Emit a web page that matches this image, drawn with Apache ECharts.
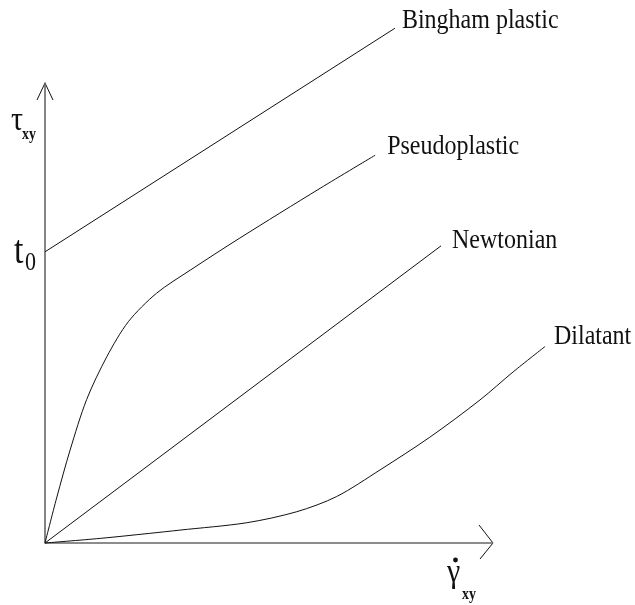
<!DOCTYPE html>
<html>
<head>
<meta charset="utf-8">
<script src="https://cdn.jsdelivr.net/npm/echarts@6/dist/echarts.min.js"></script>
<style>
  html, body { margin: 0; padding: 0; background: #fff; }
  #chart { width: 635px; height: 605px; }
</style>
</head>
<body>
<div id="chart"></div>
<script>
// shear rate (x) vs shear stress (y), arbitrary units
const binghamData = [[0, 63.3], [78.1, 111.9]];
const pseudoData = [
  [0, 0], [2.6, 9.8], [5.6, 20.2], [9.3, 31.2], [13.8, 40.5], [18.6, 48.1],
  [24.9, 54.3], [32.4, 59.3], [43.5, 66.3], [61.4, 77.1], [73.7, 84.3]
];
const newtonianData = [[0, 0], [88.4, 64.6]];
const dilatantData = [
  [0, 0], [12.3, 1.0], [23.4, 2.1], [30.1, 2.8], [45.0, 4.4], [56.2, 6.8],
  [65.1, 10.1], [74.8, 15.9], [85.9, 23.0], [97.1, 31.1], [104.5, 37.2], [111.6, 42.7]
];
const curveNames = ['Bingham plastic', 'Pseudoplastic', 'Newtonian', 'Dilatant'];
const axisEnd = 100;   // where the drawn axis arrows sit
const xRoom = 125;     // the dilatant curve runs past the x arrow

const serif = '"Liberation Serif", "DejaVu Serif", serif';
const chart = echarts.init(document.getElementById('chart'));

function curve (name, data, smooth) {
  return {
    name: name,
    type: 'line',
    data: data,
    showSymbol: false,
    smooth: smooth,
    clip: false,
    silent: true,
    lineStyle: { color: '#111', width: 1 }
  }
}

chart.setOption({
  animation: false,
  backgroundColor: '#fff',
  grid: { left: 45, top: 83, width: 560, height: 460 },
  xAxis: {
    type: 'value', min: 0, max: xRoom,
    axisLine: { show: false },
    axisTick: { show: false }, axisLabel: { show: false }, splitLine: { show: false }
  },
  yAxis: {
    type: 'value', min: 0, max: axisEnd,
    axisLine: { show: true, lineStyle: { color: '#666', width: 1.6 } },
    axisTick: { show: false }, axisLabel: { show: false }, splitLine: { show: false }
  },
  series: [
    curve(curveNames[0], binghamData, false),
    curve(curveNames[1], pseudoData, 0.3),
    curve(curveNames[2], newtonianData, false),
    curve(curveNames[3], dilatantData, 0.3)
  ]
})

// labels & arrows placed from the chart's own coordinate system
const toPx = p => chart.convertToPixel({ gridIndex: 0 }, p)
const ends = [binghamData, pseudoData, newtonianData, dilatantData].map(d => toPx(d[d.length - 1]))
const labelOffsets = [[7, 2], [12, 1], [11, 4], [9, 0]]
const sy = 1.15

function text (str, x, baseline, size, bold) {
  return {
    type: 'text',
    x: x,
    y: baseline - 0.34 * size * sy,
    scaleY: sy,
    silent: true,
    style: {
      text: str,
      font: (bold ? 'bold ' : '') + size + 'px ' + serif,
      fill: '#111',
      textAlign: 'left',
      textVerticalAlign: 'middle'
    }
  }
}

const graphics = curveNames.map((n, i) =>
  text(n, ends[i][0] + labelOffsets[i][0], ends[i][1] + labelOffsets[i][1], 24))

const zero = toPx([0, 0])
const xTip = toPx([axisEnd, 0])
const yTip = toPx([0, axisEnd])
const yield0 = toPx([0, binghamData[0][1]])

graphics.push(
  {
    type: 'line', silent: true, z: 1,
    shape: { x1: zero[0], y1: zero[1], x2: xTip[0], y2: xTip[1] },
    style: { stroke: '#666', lineWidth: 1.6 }
  },
  {
    type: 'polyline', silent: true,
    shape: { points: [[xTip[0] - 14, xTip[1] - 18], [xTip[0], xTip[1]], [xTip[0] - 13, xTip[1] + 16]] },
    style: { stroke: '#111', lineWidth: 1, fill: null }
  },
  {
    type: 'polyline', silent: true,
    shape: { points: [[yTip[0] - 8, yTip[1] + 17], [yTip[0], yTip[1]], [yTip[0] + 8, yTip[1] + 17]] },
    style: { stroke: '#111', lineWidth: 1, fill: null }
  },
  // tau_xy
  text('τ', 11, 133, 30),
  text('xy', 22, 140, 14, true),
  // t0 (yield stress)
  text('t', 14, yield0[1] + 14, 34),
  text('0', 25, yield0[1] + 20, 22),
  // gamma-dot_xy
  text('γ', 447, 585, 30),
  { type: 'circle', silent: true, shape: { cx: 455.5, cy: 560, r: 2.4 }, style: { fill: '#111' } },
  text('xy', 462, 600, 14, true)
)

chart.setOption({ graphic: graphics })
</script>
</body>
</html>
